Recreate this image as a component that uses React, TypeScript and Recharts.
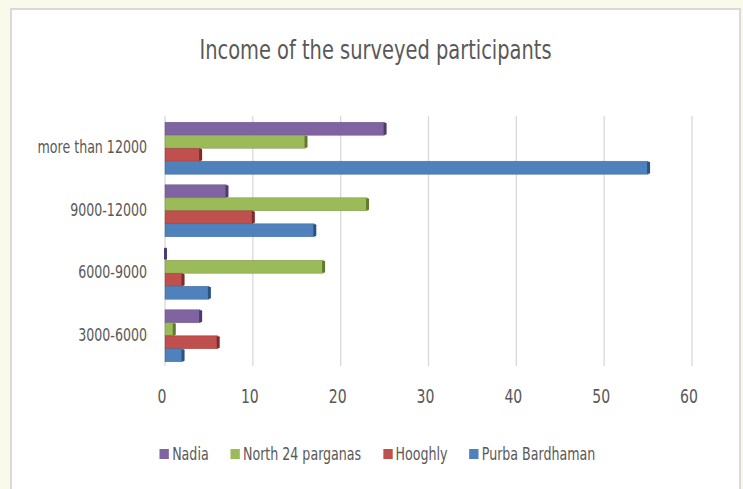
import { BarChart, Bar, XAxis, YAxis, CartesianGrid, Legend } from 'recharts';

const CATEGORIES = ['more than 12000', '9000-12000', '6000-9000', '3000-6000'];
const NADIA = [25, 7, 0, 4];
const NORTH_24 = [16, 23, 18, 1];
const HOOGHLY = [4, 10, 2, 6];
const PURBA = [55, 17, 5, 2];
const X_TICKS = [0, 10, 20, 30, 40, 50, 60];

const SERIES = [
  { key: 'nadia', name: 'Nadia', color: '#8064A2', dark: '#4F3A6E' },
  { key: 'north24', name: 'North 24 parganas', color: '#9BBB59', dark: '#627A2E' },
  { key: 'hooghly', name: 'Hooghly', color: '#C0504D', dark: '#7E2B29' },
  { key: 'purba', name: 'Purba Bardhaman', color: '#4F81BD', dark: '#2C5283' },
];

const data = CATEGORIES.map((c, i) => ({
  cat: c,
  nadia: NADIA[i],
  north24: NORTH_24[i],
  hooghly: HOOGHLY[i],
  purba: PURBA[i],
}));

const FONT = "'DejaVu Sans Condensed', 'DejaVu Sans', sans-serif";
const TEXT = '#595959';
const SQUEEZE = 0.78; // reference text is tall and narrow

const barShape = (color: string, dark: string) => (props: any) => {
  const { x, y, width, height } = props;
  const w = Math.max(width || 0, 0);
  return (
    <g>
      <rect x={x} y={y} width={w} height={height} fill={color} stroke={dark} strokeWidth={0.6} strokeOpacity={0.6} />
      <rect x={x + w - 1} y={y + 0.5} width={3} height={height - 1} rx={1} fill={dark} />
    </g>
  );
};

const YTick = (props: any) => {
  const { x, y, payload } = props;
  return (
    <text
      transform={`translate(${x - 2},${y}) scale(${SQUEEZE},1)`}
      textAnchor="end"
      dominantBaseline="central"
      fill={TEXT}
      fontSize={18}
      fontFamily={FONT}
    >
      {payload.value}
    </text>
  );
};

const XTick = (props: any) => {
  const { x, y, payload } = props;
  return (
    <text
      transform={`translate(${x - 3},${y}) scale(${SQUEEZE},1)`}
      textAnchor="middle"
      dominantBaseline="hanging"
      fill={TEXT}
      fontSize={20}
      fontFamily={FONT}
    >
      {payload.value}
    </text>
  );
};

const LegendContent = () => (
  <div
    style={{
      display: 'flex',
      justifyContent: 'center',
      fontFamily: FONT,
      fontSize: 18,
      color: TEXT,
      transform: `scaleX(${SQUEEZE})`,
      transformOrigin: 'center',
    }}
  >
    {SERIES.map((s, i) => (
      <div key={s.key} style={{ display: 'flex', alignItems: 'center', marginRight: i < SERIES.length - 1 ? 28 : 0 }}>
        <span style={{ width: 12, height: 10, background: s.color, marginRight: 4, display: 'inline-block' }} />
        <span>{s.name}</span>
      </div>
    ))}
  </div>
);

export default function App() {
  return (
    <div style={{ position: 'fixed', left: 0, top: 0, width: 743, height: 489, background: '#F9FAEA', overflow: 'hidden' }}>
      <div
        style={{
          position: 'absolute',
          left: 10,
          top: 8,
          width: 727,
          height: 490,
          background: '#FFFFFF',
          border: '2px solid #D9D9D9',
        }}
      />
      <div
        style={{
          position: 'absolute',
          left: 0,
          top: 34,
          width: 751,
          textAlign: 'center',
          fontFamily: FONT,
          fontSize: 27,
          color: TEXT,
          transform: `scaleX(${SQUEEZE + 0.02})`,
          transformOrigin: 'center',
        }}
      >
        Income of the surveyed participants
      </div>
      <div style={{ position: 'absolute', left: 0, top: 0 }}>
        <BarChart
          width={743}
          height={489}
          data={data}
          layout="vertical"
          margin={{ top: 116, right: 51, left: 45, bottom: 72 }}
          barCategoryGap="10%"
          barGap={0}
        >
          <CartesianGrid horizontal={false} stroke="#D9D9D9" strokeWidth={1.3} />
          <XAxis
            type="number"
            domain={[0, 60]}
            ticks={X_TICKS}
            axisLine={false}
            tickLine={false}
            height={30}
            tick={<XTick />}
            tickMargin={16}
          />
          <YAxis
            type="category"
            dataKey="cat"
            width={120}
            axisLine={false}
            tickLine={false}
            tick={<YTick />}
            tickMargin={10}
          />
          <Legend
            verticalAlign="bottom"
            content={<LegendContent />}
            wrapperStyle={{ position: 'absolute', top: 443, left: 6, width: 743 }}
          />
          {SERIES.map((s) => (
            <Bar
              key={s.key}
              dataKey={s.key}
              name={s.name}
              fill={s.color}
              shape={barShape(s.color, s.dark)}
              isAnimationActive={false}
            />
          ))}
        </BarChart>
      </div>
    </div>
  );
}
